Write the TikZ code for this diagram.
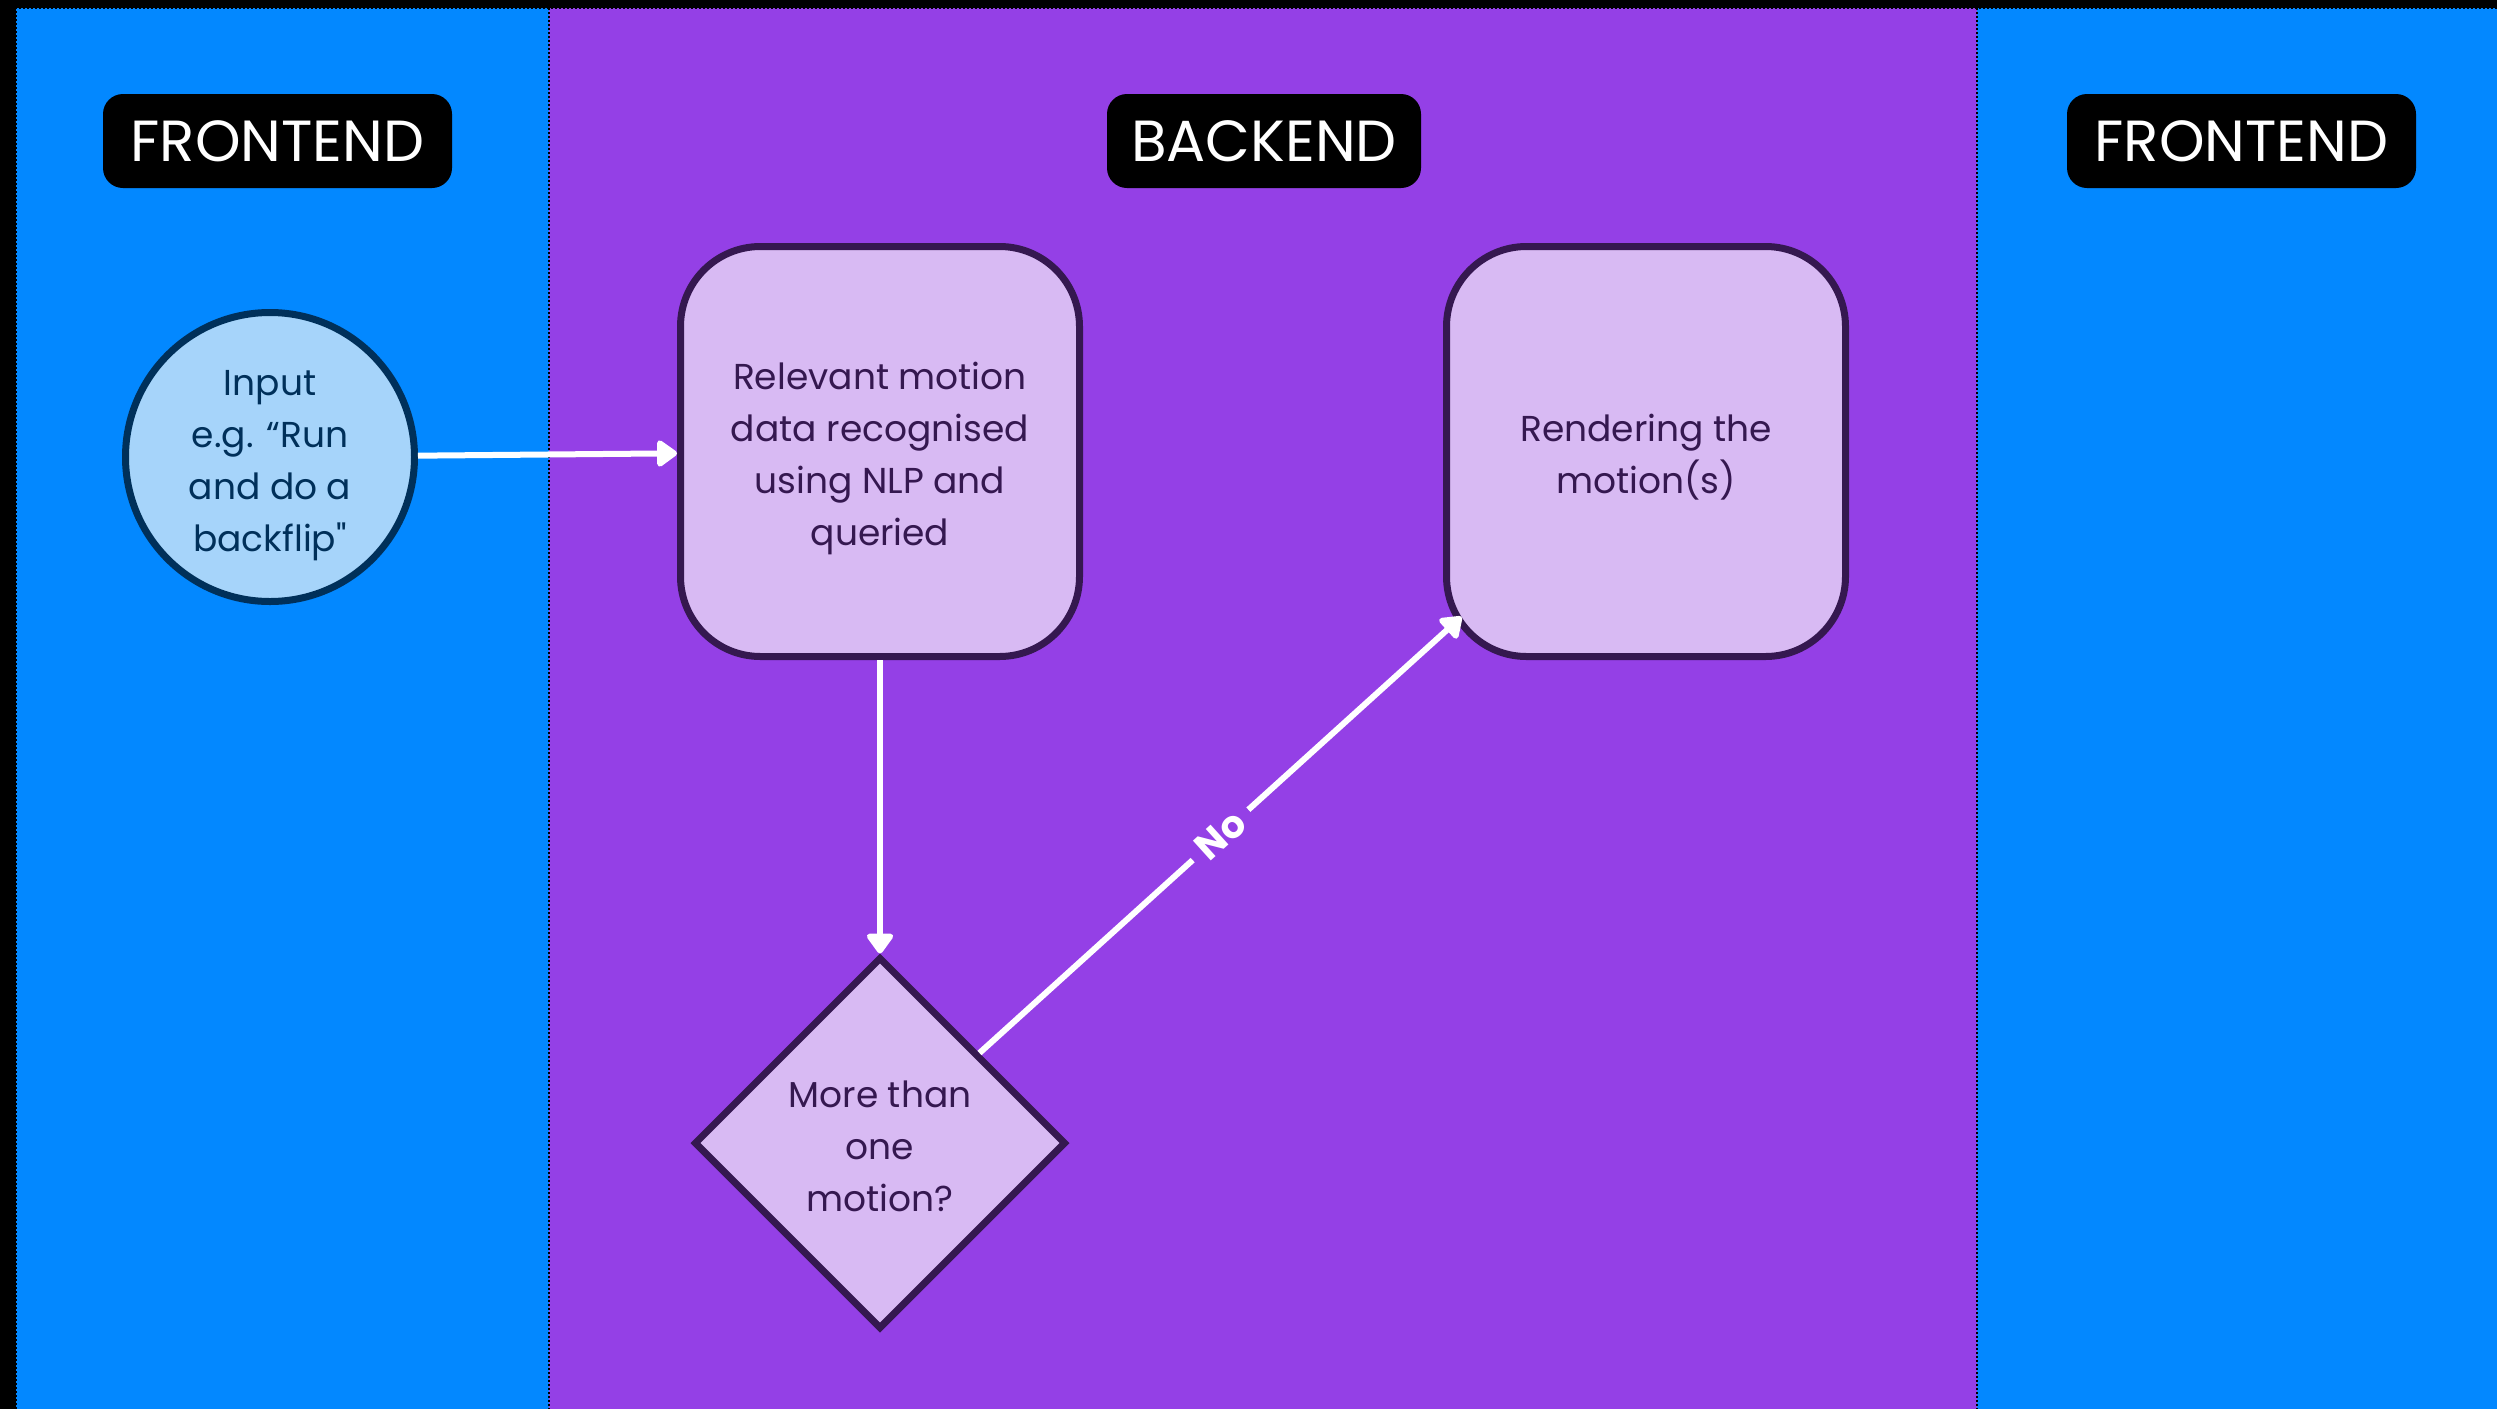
\documentclass[tikz,border=0pt]{standalone}
\usepackage{fontspec}
\setmainfont{Poppins}[Ligatures=TeXOff]
\usetikzlibrary{arrows.meta,shapes.geometric}

\definecolor{laneblue}{RGB}{3,136,255}
\definecolor{lanepurple}{RGB}{148,64,230}
\definecolor{stepfill}{RGB}{216,186,243}
\definecolor{stepline}{RGB}{53,24,80}
\definecolor{inputfill}{RGB}{166,212,250}
\definecolor{inputline}{RGB}{0,48,90}

% centred block of lines, set slightly low in its node
\newcommand{\stacklines}[1]{%
  \raisebox{-6pt}[\height][\depth]{\begin{tabular}{@{}c@{}}#1\end{tabular}}}

\begin{document}
\begin{tikzpicture}[
  x=1pt, y=-1pt,
  laneedge/.style={draw=black, line width=2pt, dotted},
  titlebox/.style={fill=black, rounded corners=20pt, minimum width=349pt,
    minimum height=94pt, inner sep=0pt, text=white,
    font=\fontsize{58}{58}\selectfont},
  bodytext/.style={font=\fontsize{36}{52}\selectfont},
  stepbox/.style={bodytext, draw=stepline, fill=stepfill, text=stepline,
    line width=7pt, rounded corners=80pt, minimum width=399pt,
    minimum height=410pt, inner sep=0pt},
  decision/.style={bodytext, diamond, aspect=1, draw=stepline, fill=stepfill,
    text=stepline, line width=7pt, minimum size=372pt, inner sep=0pt},
  startnode/.style={bodytext, circle, draw=inputline, fill=inputfill,
    text=inputline, line width=7pt, minimum size=289pt, inner sep=0pt},
  flow/.style={draw=white, line width=6pt,
    -{Triangle[width=30pt,length=22pt,round]}},
  flowlabel/.style={sloped, fill=lanepurple, text=white, inner sep=11pt,
    font=\bfseries\fontsize{38}{38}\selectfont}
]
% page and swim lanes
\fill[black] (0,0) rectangle (2497,1409);
\useasboundingbox (0,0) rectangle (2497,1409);
\fill[laneblue]   (16,8)   rectangle (549,1409);
\fill[lanepurple] (549,8)  rectangle (1977,1409);
\fill[laneblue]   (1977,8) rectangle (2497,1409);
\draw[laneedge] (16,1409) -- (16,8) -- (2497,8);
\draw[laneedge] (549,8) -- (549,1409);
\draw[laneedge] (1977,8) -- (1977,1409);

% lane titles
\node[titlebox] (front1) at (277.5,141) {FRONTEND};
\node[titlebox, minimum width=314pt] (back) at (1264,141) {BACKEND};
\node[titlebox] (front2) at (2241.5,141) {FRONTEND};

% flow steps
\node[startnode] (input) at (270,457)
  {\stacklines{Input\\e.g. “Run\\and do a\\backflip"}};
\node[stepbox] (query) at (880,451.5)
  {\stacklines{Relevant motion\\data recognised\\using NLP and\\queried}};
\node[stepbox] (render) at (1646,451.5)
  {\stacklines{Rendering the\\motion(s)}};
\node[decision] (many) at (880,1143)
  {\stacklines{More than\\one\\motion?}};

% connectors
\draw[flow] (input) -- (query);
\draw[flow] (query) -- (many);
\draw[flow, shorten >=-25pt] (many) -- (render)
  node[flowlabel, pos=0.52] {No};
\end{tikzpicture}
\end{document}
